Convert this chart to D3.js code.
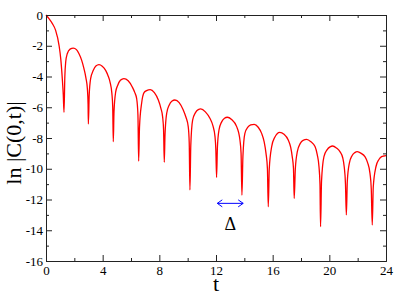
<!DOCTYPE html>
<meta charset="utf-8">
<style>
body { margin: 0; background: #fff; }
text { font-family: "Liberation Serif", "DejaVu Serif", serif; fill: #000; }
.axis path, .axis line { stroke: #222; stroke-width: 1; }
</style>
<svg width="399" height="308"></svg>
<script src="https://d3js.org/d3.v7.min.js"></script>
<script>

// ln|C(0,t)|, (t, value) pairs
var tVals = [
  0, 0.21, 0.45, 0.68, 0.92, 1.04, 1.15, 1.22, 1.27,
  1.33, 1.39, 1.5, 1.7, 1.93, 2.15, 2.33, 2.52, 2.68, 2.82, 2.92, 2.97, 2.99,
  3.05, 3.15, 3.34, 3.52, 3.74, 3.97, 4.21, 4.38, 4.52, 4.65, 4.71, 4.75,
  4.8, 4.92, 5.05, 5.25, 5.5, 5.8, 6.09, 6.27, 6.4, 6.49, 6.54,
  6.6, 6.75, 6.92, 7.1, 7.36, 7.65, 7.93, 8.12, 8.23, 8.3, 8.35,
  8.4, 8.52, 8.7, 8.9, 9.1, 9.4, 9.69, 9.88, 10.04, 10.11, 10.16,
  10.22, 10.35, 10.55, 10.75, 10.92, 11.25, 11.57, 11.78, 11.93, 11.99, 12.04,
  12.1, 12.21, 12.4, 12.6, 12.8, 13.1, 13.46, 13.6, 13.69, 13.77, 13.83,
  13.9, 14.04, 14.25, 14.45, 14.7, 14.98, 15.22, 15.4, 15.53, 15.63, 15.69,
  15.76, 15.93, 16.15, 16.5, 16.8, 17.1, 17.27, 17.38, 17.47, 17.52,
  17.6, 17.74, 17.95, 18.15, 18.4, 18.7, 18.99, 19.15, 19.27, 19.34, 19.38,
  19.45, 19.62, 19.85, 20.05, 20.23, 20.5, 20.75, 20.95, 21.05, 21.14, 21.2,
  21.27, 21.41, 21.6, 21.8, 21.97, 22.25, 22.51, 22.7, 22.87, 22.96, 23.03,
  23.1, 23.29, 23.5, 23.69, 23.85, 24
];
var lnC = [
  0, -0.24, -0.56, -1.0, -1.97, -2.84, -4.14, -5.2, -6.33,
  -4.0, -3.06, -2.52, -2.22, -2.15, -2.25, -2.52, -2.95, -3.49, -4.1, -4.79, -5.8, -7.09,
  -5.2, -4.14, -3.6, -3.32, -3.23, -3.33, -3.6, -3.95, -4.36, -5.1, -6.0, -8.24,
  -6.3, -5.0, -4.6, -4.25, -4.14, -4.28, -4.68, -5.05, -5.44, -6.5, -9.5,
  -7.3, -5.74, -5.05, -4.92, -4.85, -5.05, -5.53, -6.1, -6.61, -7.5, -9.58,
  -7.8, -6.39, -5.85, -5.6, -5.53, -5.7, -6.18, -6.65, -7.26, -8.3, -11.38,
  -8.5, -6.83, -6.35, -6.15, -6.11, -6.3, -6.72, -7.2, -7.91, -8.8, -10.56,
  -8.6, -7.48, -6.95, -6.72, -6.65, -6.8, -7.26, -7.65, -8.13, -9.0, -11.71,
  -9.2, -7.7, -7.3, -7.15, -7.11, -7.3, -7.7, -8.25, -9.0, -10.0, -12.47,
  -10.0, -8.56, -7.95, -7.63, -7.75, -8.13, -8.6, -9.21, -10.0, -11.93,
  -10.0, -8.89, -8.35, -8.15, -8.09, -8.25, -8.56, -9.1, -9.87, -11.0, -13.77,
  -10.8, -9.21, -8.75, -8.58, -8.52, -8.65, -8.89, -9.3, -9.87, -11.0, -13.0,
  -10.8, -9.65, -9.15, -8.95, -8.89, -9.0, -9.21, -9.6, -10.3, -11.3, -13.66,
  -11.2, -9.87, -9.4, -9.21, -9.17, -9.15
];

var xMajor = [0, 4, 8, 12, 16, 20, 24];
var xMinor = [2, 6, 10, 14, 18, 22];
var yMajor = [0, -2, -4, -6, -8, -10, -12, -14, -16];
var yMinor = [-1, -3, -5, -7, -9, -11, -13, -15];

// period marker
var deltaFrom = 12.09, deltaTo = 13.92, deltaLevel = -12.25;

var svg = d3.select("svg");
var mLeft = 46, mRight = 386, mTop = 15, mBottom = 261;

var x = d3.scaleLinear().domain([0, 24]).range([mLeft, mRight]);
var y = d3.scaleLinear().domain([0, -16]).range([mTop, mBottom]);

var points = tVals.map(function(t, i) { return [t, lnC[i]]; });

var line = d3.line()
    .x(function(d) { return x(d[0]); })
    .y(function(d) { return y(d[1]); })
    .curve(d3.curveMonotoneX);

svg.append("path")
    .datum(points)
    .attr("fill", "none")
    .attr("stroke", "#ff0000")
    .attr("stroke-width", 1.3)
    .attr("d", line);

// frame and ticks
function fmt(d) { return d < 0 ? "-" + Math.abs(d) : "" + d; }

svg.append("g").attr("class", "axis").attr("transform", "translate(0," + mBottom + ")")
    .call(d3.axisBottom(x).tickValues(xMajor).tickSize(-6).tickPadding(5).tickFormat(fmt));
svg.append("g").attr("class", "axis").attr("transform", "translate(0," + mBottom + ")")
    .call(d3.axisBottom(x).tickValues(xMinor).tickSize(-3).tickFormat(""))
    .select(".domain").remove();

svg.append("g").attr("class", "axis").attr("transform", "translate(0," + mTop + ")")
    .call(d3.axisTop(x).tickValues(xMajor).tickSize(-6).tickFormat(""));
svg.append("g").attr("class", "axis").attr("transform", "translate(0," + mTop + ")")
    .call(d3.axisTop(x).tickValues(xMinor).tickSize(-3).tickFormat(""))
    .select(".domain").remove();

svg.append("g").attr("class", "axis").attr("transform", "translate(" + mLeft + ",0)")
    .call(d3.axisLeft(y).tickValues(yMajor).tickSize(-6).tickPadding(3).tickFormat(fmt));
svg.append("g").attr("class", "axis").attr("transform", "translate(" + mLeft + ",0)")
    .call(d3.axisLeft(y).tickValues(yMinor).tickSize(-3).tickFormat(""))
    .select(".domain").remove();

svg.append("g").attr("class", "axis").attr("transform", "translate(" + mRight + ",0)")
    .call(d3.axisRight(y).tickValues(yMajor).tickSize(-6).tickFormat(""));
svg.append("g").attr("class", "axis").attr("transform", "translate(" + mRight + ",0)")
    .call(d3.axisRight(y).tickValues(yMinor).tickSize(-3).tickFormat(""))
    .select(".domain").remove();

svg.selectAll(".axis")
    .attr("font-family", "Liberation Serif, serif")
    .attr("font-size", 13);
svg.selectAll(".axis .domain").attr("stroke-width", 1.2);

// axis titles
svg.append("text")
    .attr("x", (mLeft + mRight) / 2)
    .attr("y", 291)
    .attr("text-anchor", "middle")
    .attr("font-size", 22)
    .text("t");

svg.append("text")
    .attr("transform", "translate(21,143) rotate(-90)")
    .attr("text-anchor", "middle")
    .attr("font-size", 22)
    .text("ln |C(0,t)|");

// double arrow + Delta
var blue = "#0000ff";
var ay = y(deltaLevel), ax0 = x(deltaFrom), ax1 = x(deltaTo);
svg.append("line")
    .attr("x1", ax0).attr("x2", ax1).attr("y1", ay).attr("y2", ay)
    .attr("stroke", blue).attr("stroke-width", 1);
svg.append("path")
    .attr("fill", "none").attr("stroke", blue).attr("stroke-width", 1)
    .attr("d", "M" + (ax0 + 5) + "," + (ay - 3.5) + "L" + ax0 + "," + ay + "L" + (ax0 + 5) + "," + (ay + 3.5)
      + "M" + (ax1 - 5) + "," + (ay - 3.5) + "L" + ax1 + "," + ay + "L" + (ax1 - 5) + "," + (ay + 3.5));

svg.append("text")
    .attr("x", (ax0 + ax1) / 2)
    .attr("y", 230)
    .attr("text-anchor", "middle")
    .attr("font-size", 18)
    .text("Δ");

</script>
